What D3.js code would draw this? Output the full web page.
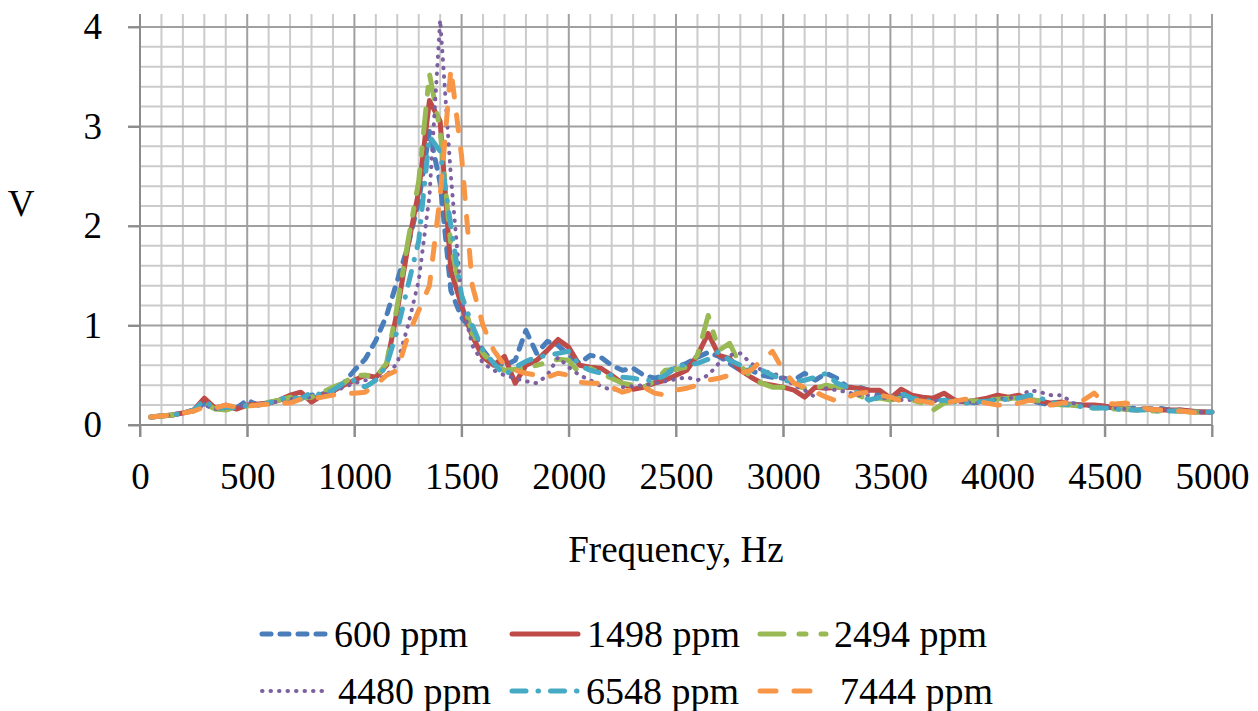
<!DOCTYPE html>
<html>
<head>
<meta charset="utf-8">
<script src="https://cdn.jsdelivr.net/npm/d3@7"></script>
<style>
  html, body { margin: 0; padding: 0; background: #ffffff; }
  svg { display: block; }
  text { font-family: "Liberation Serif", "Times New Roman", serif; fill: #000; }
</style>
</head>
<body>
<svg id="chart" width="1258" height="711"></svg>
<script>
// ---------------- data ----------------
const freq = [50,100,150,200,250,300,350,400,450,500,
  550,600,650,700,750,800,850,900,950,1000,
  1050,1100,1150,1200,1250,1300,1350,1400,1450,1500,
  1550,1600,1650,1700,1750,1800,1850,1900,1950,2000,
  2050,2100,2150,2200,2250,2300,2350,2400,2450,2500,
  2550,2600,2650,2700,2750,2800,2850,2900,2950,3000,
  3050,3100,3150,3200,3250,3300,3350,3400,3450,3500,
  3550,3600,3650,3700,3750,3800,3850,3900,3950,4000,
  4050,4100,4150,4200,4250,4300,4350,4400,4450,4500,
  4550,4600,4650,4700,4750,4800,4850,4900,4950,5000];

const s600 = [.08,.09,.10,.12,.15,.22,.16,.18,.17,.25,
  .20,.22,.25,.27,.29,.30,.31,.35,.42,.55,
  .66,.85,1.10,1.45,1.80,2.25,2.95,2.43,1.35,1.08,
  .95,.75,.62,.60,.65,.95,.72,.84,.80,.70,
  .62,.70,.68,.60,.55,.57,.50,.47,.50,.58,
  .62,.68,.73,.69,.62,.55,.55,.50,.48,.47,
  .45,.52,.45,.52,.47,.38,.38,.35,.30,.28,
  .30,.27,.25,.25,.27,.25,.24,.22,.25,.27,
  .26,.28,.25,.22,.20,.22,.21,.20,.19,.18,
  .17,.16,.17,.16,.17,.15,.15,.14,.13,.13];

const s1498 = [.08,.09,.10,.12,.15,.27,.17,.20,.16,.20,
  .21,.22,.25,.30,.33,.23,.30,.34,.40,.45,
  .50,.48,.60,1.15,1.80,2.35,3.26,3.05,1.55,1.20,
  .89,.68,.60,.69,.42,.60,.65,.75,.86,.78,
  .60,.58,.57,.50,.42,.36,.38,.42,.45,.50,
  .55,.70,.92,.70,.67,.55,.48,.42,.40,.38,
  .35,.28,.38,.37,.38,.38,.37,.35,.35,.27,
  .36,.30,.28,.27,.32,.25,.23,.25,.27,.30,
  .28,.30,.25,.24,.22,.23,.20,.20,.20,.19,
  .17,.16,.15,.16,.15,.15,.15,.14,.13,.13];

const s2494 = [.08,.09,.10,.12,.14,.22,.16,.15,.18,.19,
  .21,.23,.25,.28,.27,.28,.33,.38,.42,.50,
  .50,.48,.62,1.20,1.85,2.45,3.53,2.96,1.80,1.30,
  .92,.72,.60,.55,.56,.57,.60,.63,.66,.65,
  .52,.57,.52,.47,.42,.40,.38,.44,.55,.56,
  .58,.70,1.10,.75,.82,.60,.48,.42,.38,.38,
  .40,.37,.37,.40,.38,.38,.30,.25,.27,.25,
  .27,.25,.22,.15,.22,.24,.25,.24,.25,.26,
  .27,.27,.26,.24,.22,.20,.20,.18,.17,.17,
  .16,.16,.15,.14,.14,.14,.14,.13,.13,.13];

const s4480 = [.08,.09,.10,.12,.14,.20,.16,.17,.18,.20,
  .20,.22,.24,.26,.27,.28,.30,.33,.38,.42,
  .45,.45,.50,.62,1.00,1.45,2.30,4.07,2.50,1.25,
  .80,.62,.55,.50,.47,.44,.42,.50,.68,.58,
  .50,.45,.39,.35,.38,.39,.40,.42,.44,.46,
  .48,.45,.50,.62,.70,.72,.62,.55,.52,.48,
  .40,.35,.28,.37,.35,.33,.30,.30,.28,.26,
  .25,.25,.24,.24,.25,.23,.23,.22,.24,.26,
  .27,.28,.35,.33,.30,.30,.22,.20,.19,.18,
  .17,.16,.16,.15,.15,.15,.14,.14,.13,.12];

const s6548 = [.08,.09,.10,.12,.15,.25,.16,.18,.17,.20,
  .20,.22,.26,.28,.26,.33,.30,.35,.42,.45,
  .38,.45,.60,.95,1.40,1.85,2.90,2.75,2.00,1.30,
  1.00,.75,.62,.50,.58,.64,.68,.70,.72,.74,
  .60,.55,.52,.50,.48,.47,.45,.45,.50,.60,
  .60,.62,.66,.74,.65,.60,.58,.55,.50,.45,
  .43,.45,.48,.52,.42,.38,.32,.25,.28,.27,
  .32,.27,.25,.24,.25,.23,.22,.23,.24,.25,
  .26,.27,.30,.27,.23,.21,.20,.18,.17,.17,
  .16,.15,.15,.15,.14,.14,.14,.13,.13,.13];

const s7444 = [.08,.09,.10,.12,.14,.18,.17,.20,.18,.19,
  .20,.21,.22,.22,.26,.27,.28,.30,.32,.32,
  .33,.40,.50,.55,.90,1.15,1.40,2.30,3.58,2.70,
  1.40,1.00,.75,.60,.55,.52,.50,.48,.52,.50,
  .43,.42,.42,.38,.33,.36,.38,.32,.30,.35,
  .37,.40,.45,.47,.50,.52,.55,.65,.74,.55,
  .42,.38,.33,.28,.24,.28,.32,.33,.30,.28,
  .24,.25,.24,.22,.22,.24,.26,.24,.22,.20,
  .20,.22,.25,.22,.20,.22,.22,.25,.32,.22,
  .21,.22,.20,.16,.15,.15,.14,.13,.12,.13];

const seriesNames = ["600 ppm", "1498 ppm", "2494 ppm", "4480 ppm", "6548 ppm", "7444 ppm"];
const seriesValues = [s600, s1498, s2494, s4480, s6548, s7444];
const xTicks = [0,500,1000,1500,2000,2500,3000,3500,4000,4500,5000];
const yTicks = [0,1,2,3,4];
const xLabel = "Frequency, Hz";
const yLabel = "V";

// ---------------- styles ----------------
const colors = ["#4A7EBB", "#BE4B48", "#98B954", "#7D60A0", "#46AAC5", "#F79646"];
const dashes = ["9,9", null, "24,15,7,15", "0.5,8", "14,12,0.5,12", "16,18"];
const widths = [5, 5, 5, 4, 5, 5];

const svg = d3.select("#chart");
const W = 1258, H = 711;
svg.append("rect").attr("width", W).attr("height", H).attr("fill", "#ffffff");

const pLeft = 140, pRight = 1212, pBottom = 425, pTop = 14;
const x = d3.scaleLinear().domain([0, 5000]).range([pLeft, pRight]);
const y = d3.scaleLinear().domain([0, 4.13]).range([pBottom, pTop]);

const FS = 37;
const font = '"Liberation Serif", "Times New Roman", serif';

// minor grid
const g = svg.append("g");
const minorX = d3.range(0, 5001, 100).filter(v => v % 500 !== 0);
const minorY = d3.range(0, 4.001, 0.2).map(v => +v.toFixed(1)).filter(v => Math.abs(v - Math.round(v)) > 1e-6);
g.selectAll(".mx").data(minorX).join("line")
  .attr("x1", d => x(d)).attr("x2", d => x(d))
  .attr("y1", pTop).attr("y2", pBottom)
  .attr("stroke", "#cbcbcb").attr("stroke-width", 2);
g.selectAll(".my").data(minorY).join("line")
  .attr("x1", pLeft).attr("x2", pRight)
  .attr("y1", d => y(d)).attr("y2", d => y(d))
  .attr("stroke", "#cbcbcb").attr("stroke-width", 2);
// major grid
g.selectAll(".Mx").data(xTicks.filter(d => d > 0)).join("line")
  .attr("x1", d => x(d)).attr("x2", d => x(d))
  .attr("y1", pTop).attr("y2", pBottom + 12)
  .attr("stroke", "#a0a0a0").attr("stroke-width", 2);
g.selectAll(".My").data(yTicks.filter(d => d > 0)).join("line")
  .attr("x1", pLeft - 12).attr("x2", pRight)
  .attr("y1", d => y(d)).attr("y2", d => y(d))
  .attr("stroke", "#a0a0a0").attr("stroke-width", 2);

// axes
const xAxis = d3.axisBottom(x).tickValues(xTicks).tickSize(12).tickPadding(26).tickFormat(d3.format("d"));
const xa = svg.append("g").attr("transform", `translate(0,${pBottom})`).call(xAxis);
xa.select(".domain").attr("stroke", "#8c8c8c").attr("stroke-width", 2).attr("d", `M${pLeft - 12},0H${pRight}`);
xa.selectAll(".tick line").attr("stroke", "#8c8c8c").attr("stroke-width", 2);
xa.selectAll(".tick text").attr("font-size", FS).attr("font-family", font).attr("fill", "#000").attr("dy", "0.71em");

const yAxis = d3.axisLeft(y).tickValues(yTicks).tickSize(12).tickPadding(26).tickFormat(d3.format("d"));
const ya = svg.append("g").attr("transform", `translate(${pLeft},0)`).call(yAxis);
ya.select(".domain").attr("stroke", "#8c8c8c").attr("stroke-width", 2).attr("d", `M0,${pTop}V${pBottom + 12}`);
ya.selectAll(".tick line").attr("stroke", "#8c8c8c").attr("stroke-width", 2);
ya.selectAll(".tick text").attr("font-size", FS).attr("font-family", font).attr("fill", "#000");

// lines
const line = d3.line().x((d, i) => x(freq[i])).y(d => y(d));
const lg = svg.append("g");
seriesValues.forEach((vals, i) => {
  lg.append("path")
    .attr("d", line(vals))
    .attr("fill", "none")
    .attr("stroke", colors[i])
    .attr("stroke-width", widths[i])
    .attr("stroke-linecap", "round")
    .attr("stroke-linejoin", "round")
    .attr("stroke-dasharray", dashes[i]);
});

// axis titles
svg.append("text").attr("x", (pLeft + pRight) / 2).attr("y", 549).attr("dy", "0.35em")
  .attr("text-anchor", "middle").attr("font-size", FS).text(xLabel);
svg.append("text").attr("x", 21).attr("y", 203).attr("dy", "0.35em")
  .attr("text-anchor", "middle").attr("font-size", FS).text(yLabel);

// legend
const colX = [260, 510, 758];
const rowY = [634, 691];
const textGap = [74, 77, 76, 78, 76, 82];
const leg = svg.append("g");
seriesNames.forEach((name, i) => {
  const cx = colX[i % 3], cy = rowY[Math.floor(i / 3)];
  leg.append("line")
    .attr("x1", cx + 2).attr("x2", cx + 68).attr("y1", cy).attr("y2", cy)
    .attr("stroke", colors[i]).attr("stroke-width", widths[i])
    .attr("stroke-linecap", "round")
    .attr("stroke-dasharray", dashes[i]);
  leg.append("text").attr("x", cx + textGap[i]).attr("y", cy).attr("dy", "0.35em")
    .attr("font-size", FS + 1).text(name);
});
</script>
</body>
</html>
